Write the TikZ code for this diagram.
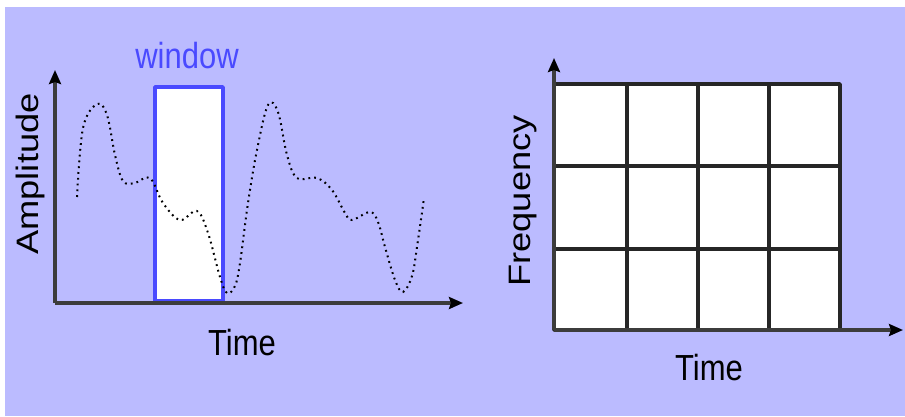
\documentclass[tikz,border=0pt]{standalone}
\usepackage{fontspec}
\setmainfont{Liberation Sans}
\usetikzlibrary{arrows.meta}
\definecolor{bgcol}{HTML}{BBBBFF}
\definecolor{wincol}{HTML}{4A4AFF}
\definecolor{axcol}{HTML}{3C3C3C}
\tikzset{
  axis/.style={draw=axcol, line width=3.5pt, -{Stealth[length=14pt,width=12pt,inset=2pt,black]}},
  gridline/.style={draw=black!85, line width=3.5pt, line cap=round, line join=round},
  lbl/.style={font=\fontsize{31}{36}\selectfont, inner sep=0pt, anchor=base},
  curve/.style={draw=black, line width=2pt, dash pattern=on 1.8pt off 4pt}
}
\newcommand{\vstr}[1]{\scalebox{1}[1.17]{#1}}
\newcommand{\hstr}[1]{\scalebox{1.17}[1]{#1}}
\begin{document}
\begin{tikzpicture}[x=1pt,y=-1pt]
\useasboundingbox (0,0) rectangle (905,416);
\fill[bgcol] (5,7) rectangle (905,416);
% left plot
\coordinate (o1) at (55,303);
\coordinate (ytip1) at (55,70);
\coordinate (xtip1) at (463,303);
\draw[fill=white, draw=wincol, line width=3.5pt, line join=round] (155,87) rectangle (223,301);
\draw[curve] plot[smooth, tension=0.6] coordinates {
 (77,197) (83,128) (97,104) (107,115) (115,155) (123,181) (135,183) (150,178)
 (163,203) (180,220) (197,211) (208,233) (220,277) (227,293) (235,286) (240,263)
 (248,203) (257,150) (268,105) (278,112) (287,155) (297,178) (317,178) (332,190)
 (345,213) (352,220) (370,212) (378,222) (385,247) (395,280) (403,292) (412,276)
 (417,247) (424,198)};
\draw[axis] (o1) -- (ytip1);
\draw[axis] (o1) -- (xtip1);
\node[lbl, text=wincol] (win) at (187,68) {\vstr{window}};
\node[lbl, rotate=90] (amp) at (38,174) {\hstr{Amplitude}};
\node[lbl] (time1) at (242,355) {\vstr{Time}};
% right plot
\coordinate (o2) at (554,330);
\coordinate (ytip2) at (554,58);
\coordinate (xtip2) at (903,330);
\fill[white] (554,84) rectangle (840,330);
\draw[gridline] (554,84) rectangle (840,330);
\foreach \xx in {627,698,769} \draw[gridline] (\xx,84) -- (\xx,330);
\foreach \yy in {166,249} \draw[gridline] (554,\yy) -- (840,\yy);
\draw[axis] (o2) -- (ytip2);
\draw[axis] (o2) -- (xtip2);
\node[lbl, rotate=90] (freq) at (530,201) {\hstr{Frequency}};
\node[lbl] (time2) at (709,380) {\vstr{Time}};
\end{tikzpicture}
\end{document}
